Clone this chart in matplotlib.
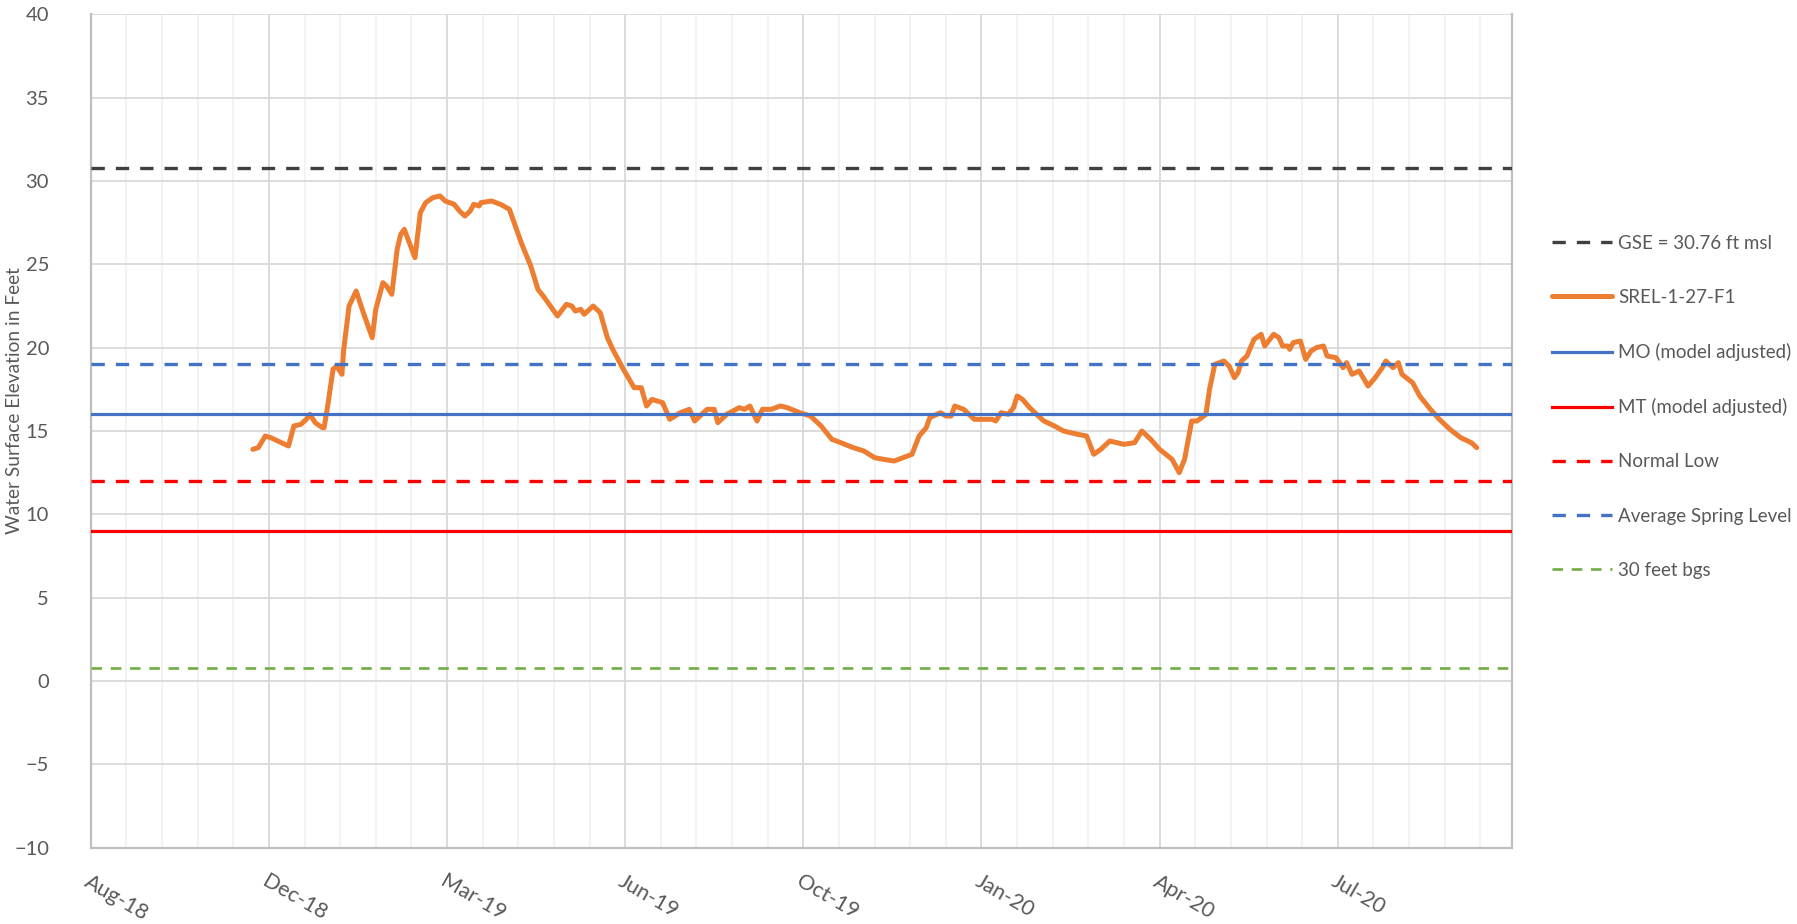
import numpy as np
import pandas as pd
import matplotlib
matplotlib.use("Agg")
import matplotlib.pyplot as plt
import matplotlib.dates as mdates
from matplotlib.ticker import FixedLocator, MultipleLocator

plt.rcParams["font.family"] = ["Lato", "DejaVu Sans"]

# axis runs on 100-day steps from this date (Excel date axis)
axis_start = pd.Timestamp("2018-08-29")
axis_days = 798

# SREL-1-27-F1 readings: day offset from axis_start, elevation in feet
obs_day = [91, 94, 98, 101, 111, 114, 118, 121, 123, 126, 130, 131, 133, 136, 138,
           141, 142, 145, 149, 153, 158, 160, 164, 166, 169, 172, 174, 176, 182, 185,
           188, 192, 196, 199, 204, 207, 210, 213, 215, 218, 219, 225, 230, 235, 242,
           247, 251, 254, 262, 267, 270, 272, 275, 277, 282, 286, 290, 293, 299, 305,
           309, 312, 315, 321, 325, 331, 336, 339, 346, 350, 352, 357, 364, 367, 370,
           374, 377, 382, 387, 391, 398, 404, 410, 416, 421, 428, 434, 440, 445, 451,
           456, 461, 465, 469, 471, 477, 480, 483, 485, 490, 496, 501, 506, 508, 511,
           515, 518, 520, 523, 527, 529, 535, 541, 546, 554, 559, 563, 567, 572, 580,
           586, 590, 595, 600, 607, 611, 614, 618, 621, 626, 628, 631, 636, 639, 642,
           644, 646, 649, 653, 657, 659, 664, 667, 669, 672, 673, 675, 679, 682, 685,
           688, 692, 694, 699, 703, 705, 708, 712, 717, 721, 725, 727, 731, 734, 736,
           742, 746, 752, 757, 763, 769, 775, 778]
obs_level = [13.9, 14.0, 14.7, 14.6, 14.1, 15.3, 15.4, 15.7, 16.0, 15.5, 15.2, 15.2, 16.5, 18.7, 18.9,
             18.4, 19.9, 22.5, 23.4, 22.1, 20.6, 22.3, 23.9, 23.7, 23.2, 25.9, 26.8, 27.1, 25.4, 28.1,
             28.7, 29.0, 29.1, 28.8, 28.6, 28.2, 27.9, 28.2, 28.6, 28.5, 28.7, 28.8, 28.6, 28.3, 26.2,
             24.9, 23.5, 23.1, 21.9, 22.6, 22.5, 22.2, 22.3, 22.0, 22.5, 22.1, 20.6, 19.9, 18.7, 17.6,
             17.6, 16.5, 16.9, 16.7, 15.7, 16.1, 16.3, 15.6, 16.3, 16.3, 15.5, 16.0, 16.4, 16.3, 16.5,
             15.6, 16.3, 16.3, 16.5, 16.4, 16.1, 15.9, 15.3, 14.5, 14.3, 14.0, 13.8, 13.4, 13.3, 13.2,
             13.4, 13.6, 14.7, 15.2, 15.8, 16.1, 15.9, 15.9, 16.5, 16.3, 15.7, 15.7, 15.7, 15.6, 16.1,
             16.0, 16.4, 17.1, 16.9, 16.4, 16.2, 15.6, 15.3, 15.0, 14.8, 14.7, 13.6, 13.9, 14.4, 14.2,
             14.3, 15.0, 14.5, 13.9, 13.3, 12.5, 13.3, 15.6, 15.6, 16.0, 17.5, 19.0, 19.2, 18.9, 18.2,
             18.5, 19.2, 19.5, 20.5, 20.8, 20.1, 20.8, 20.6, 20.1, 20.1, 19.9, 20.3, 20.4, 19.3, 19.8,
             20.0, 20.1, 19.5, 19.4, 18.8, 19.1, 18.4, 18.6, 17.7, 18.2, 18.8, 19.2, 18.8, 19.1, 18.4,
             17.9, 17.1, 16.3, 15.7, 15.1, 14.6, 14.3, 14.0]

gse = 30.76
mo_level = 16.0
mt_level = 9.0
normal_low = 12.0
spring_level = 19.0
bgs_30 = gse - 30.0

dates = axis_start + pd.to_timedelta(obs_day, unit="D")

fig = plt.figure(figsize=(17.97, 9.24), dpi=100)
ax = fig.add_axes([0.0505, 0.0826, 0.7911, 0.9019])

dash = (4, 3.3)
h_gse = ax.axhline(gse, color="#404040", lw=2.4, dashes=dash, zorder=3, label="GSE = 30.76 ft msl")
h_obs, = ax.plot(dates, obs_level, color="#ED7D31", lw=3.6, zorder=4, label="SREL-1-27-F1",
                 solid_joinstyle="round", solid_capstyle="round")
h_mo = ax.axhline(mo_level, color="#4472C4", lw=2.3, zorder=5, label="MO (model adjusted)")
h_mt = ax.axhline(mt_level, color="#FF0000", lw=2.3, zorder=6, label="MT (model adjusted)")
h_nl = ax.axhline(normal_low, color="#FF0000", lw=2.4, dashes=dash, zorder=7, label="Normal Low")
h_sp = ax.axhline(spring_level, color="#4472C4", lw=2.4, dashes=dash, zorder=8,
                  label="Average Spring Level")
h_bgs = ax.axhline(bgs_30, color="#70AD47", lw=1.9, dashes=dash, zorder=9, label="30 feet bgs")

x0 = mdates.date2num(axis_start)
ax.set_xlim(x0, x0 + axis_days)
ax.set_ylim(-10, 40)
ax.yaxis.set_major_locator(MultipleLocator(5))
ax.xaxis.set_major_locator(FixedLocator([x0 + d for d in range(0, axis_days + 1, 100)]))
ax.xaxis.set_minor_locator(FixedLocator([x0 + d for d in range(0, axis_days + 1, 20)]))
ax.xaxis.set_major_formatter(mdates.DateFormatter("%b-%y"))

ax.grid(True, which="major", color="#D9D9D9", lw=1.3, zorder=0)
ax.grid(True, which="minor", axis="x", color="#F2F2F2", lw=1.3, zorder=0)
ax.set_axisbelow(True)

for side in ["left", "bottom", "right"]:
    ax.spines[side].set_color("#BFBFBF")
    ax.spines[side].set_linewidth(1.6)
ax.spines["top"].set_visible(False)

ax.tick_params(axis="both", which="both", length=0)
ax.tick_params(axis="y", pad=30, labelsize=14.5, labelcolor="#595959")
ax.tick_params(axis="x", pad=17, labelsize=15.5, labelcolor="#595959")
for lab in ax.get_xticklabels():
    lab.set_rotation(-30)
    lab.set_ha("left")
    lab.set_rotation_mode("anchor")

ax.set_ylabel("Water Surface Elevation in Feet", fontsize=13.8, color="#595959")
ax.yaxis.set_label_coords(-0.0475, 0.537)

handles = [h_gse, h_obs, h_mo, h_mt, h_nl, h_sp, h_bgs]
fig.legend(handles, [h.get_label() for h in handles], loc="center left",
           bbox_to_anchor=(1551.7 / 1797, 1 - 406.7 / 924), frameon=False, fontsize=13.5,
           labelspacing=1.98, handlelength=3.2, handletextpad=0.35, borderpad=0,
           borderaxespad=0, labelcolor="#595959")

fig.savefig("out.png", dpi=100)
plt.close(fig)
